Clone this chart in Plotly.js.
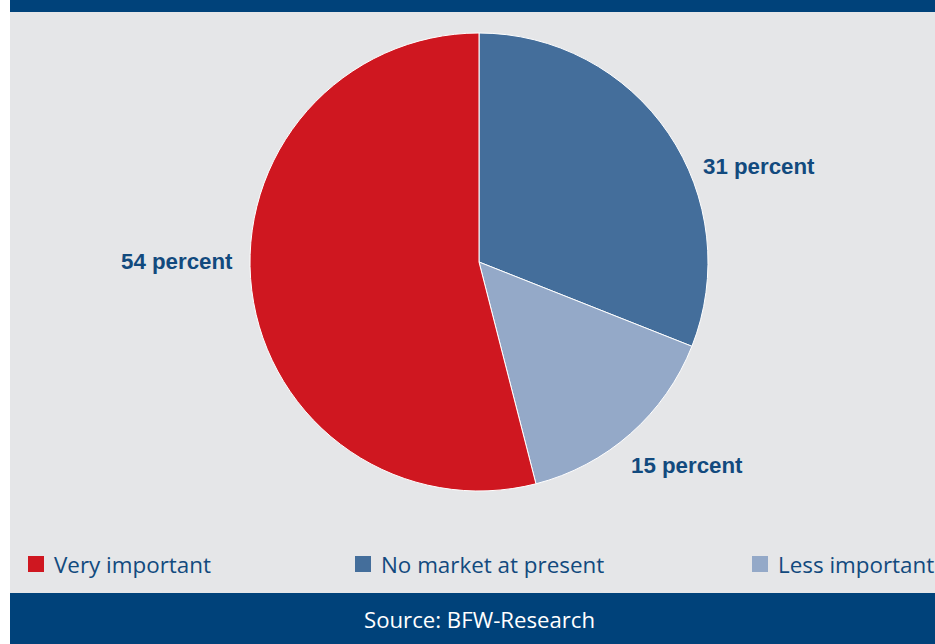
<!DOCTYPE html>
<html>
<head>
<meta charset="utf-8">
<script src="https://cdn.plot.ly/plotly-3.0.1.min.js"></script>
<style>html,body{margin:0;padding:0;background:#fff;}#chart{width:935px;height:644px;}</style>
</head>
<body>
<div id="chart"></div>
<script>
// Data
var categories = ["No market at present", "Less important", "Very important"];
var values = [31, 15, 54];
var sliceColors = ["#446e9b", "#94a9c8", "#cf1720"];
var legendOrder = ["Very important", "No market at present", "Less important"];
var sourceText = "Source: BFW-Research";

var W = 935, H = 644;
function px(x){ return x / W; }
function py(y){ return 1 - y / H; }

var navy = "#00427a";
var textColor = "#124a7e";

// label positions (pixels)
var labelPos = {
  "No market at present": [759, 166],
  "Less important": [687, 465],
  "Very important": [177, 261]
};
var legendX = {"Very important": 28, "No market at present": 355, "Less important": 752};

var annotations = [];
categories.forEach(function(c, i){
  annotations.push({
    xref: "paper", yref: "paper", x: px(labelPos[c][0]), y: py(labelPos[c][1]),
    xanchor: "center", yanchor: "middle", showarrow: false,
    text: "<b>" + values[i] + " percent</b>",
    font: {family: "Liberation Sans, Arial, sans-serif", size: 22.3, color: textColor}
  });
});

var shapes = [
  {type: "rect", xref: "paper", yref: "paper", x0: px(10), x1: 1, y0: py(593), y1: py(12), fillcolor: "#e5e6e8", line: {width: 0}, layer: "below"},
  {type: "rect", xref: "paper", yref: "paper", x0: px(10), x1: 1, y0: py(12), y1: 1, fillcolor: navy, line: {width: 0}, layer: "below"},
  {type: "rect", xref: "paper", yref: "paper", x0: px(10), x1: 1, y0: 0, y1: py(593), fillcolor: navy, line: {width: 0}, layer: "below"}
];

legendOrder.forEach(function(c){
  var i = categories.indexOf(c);
  var x = legendX[c];
  shapes.push({type: "rect", xref: "paper", yref: "paper", x0: px(x), x1: px(x + 16), y0: py(572), y1: py(556), fillcolor: sliceColors[i], line: {width: 0}});
  annotations.push({
    xref: "paper", yref: "paper", x: px(x + 24), y: py(564), xanchor: "left", yanchor: "middle",
    showarrow: false, text: c,
    font: {family: "Open Sans, sans-serif", size: 22.4, color: textColor}
  });
});

annotations.push({
  xref: "paper", yref: "paper", x: px(479), y: py(619), xanchor: "center", yanchor: "middle",
  showarrow: false, text: sourceText,
  font: {family: "Open Sans, sans-serif", size: 22.2, color: "#ffffff"}
});

var trace = {
  type: "pie",
  labels: categories,
  values: values,
  sort: false,
  direction: "clockwise",
  rotation: 0,
  marker: {colors: sliceColors, line: {color: "#ffffff", width: 1}},
  textinfo: "none",
  hoverinfo: "label+value",
  showlegend: false,
  domain: {x: [px(250), px(708)], y: [py(491), py(33)]}
};

var layout = {
  width: W, height: H,
  margin: {l: 0, r: 0, t: 0, b: 0},
  paper_bgcolor: "#ffffff",
  showlegend: false,
  shapes: shapes,
  annotations: annotations
};

Plotly.newPlot("chart", [trace], layout, {displayModeBar: false, staticPlot: true});
</script>
</body>
</html>
